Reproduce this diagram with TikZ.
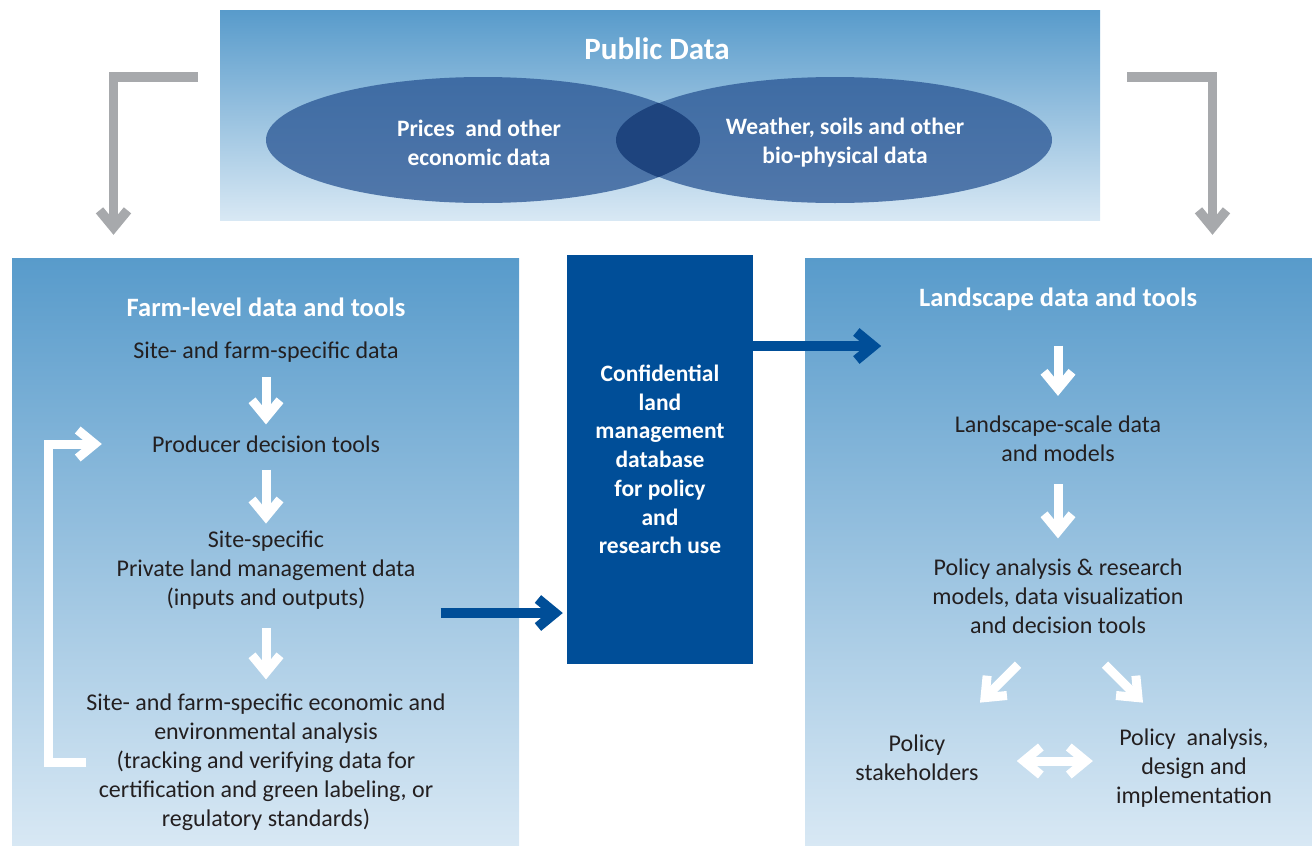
\documentclass[tikz,border=0pt]{standalone}
\usepackage{fontspec}
\setmainfont{Carlito}
\usetikzlibrary{arrows.meta,shapes.geometric}
\definecolor{boxtop}{RGB}{88,155,203}
\definecolor{boxbot}{RGB}{216,232,244}
\definecolor{ovalblue}{RGB}{42,86,148}
\definecolor{ovaldark}{RGB}{30,68,126}
\definecolor{navy}{RGB}{0,78,152}
\definecolor{arrowgray}{RGB}{167,169,172}
\definecolor{ink}{RGB}{35,31,32}
\begin{document}
\begin{tikzpicture}[x=1pt,y=-1pt,
    panel/.style={rectangle,top color=boxtop,bottom color=boxbot,inner sep=0pt},
    txt/.style={align=center,text=ink,inner sep=0pt,font=\fontsize{24}{29}\selectfont},
    head/.style={align=center,text=white,inner sep=0pt,font=\fontsize{26.5}{31}\selectfont\bfseries},
    oval/.style={ellipse,fill=ovalblue,fill opacity=0.76,minimum width=434pt,minimum height=126pt},
    ovaltxt/.style={align=center,text=white,inner sep=0pt,font=\fontsize{23.5}{29}\selectfont\bfseries},
    tip/.style={-{Straight Barb[length=17pt,width=28pt,sharp]}},
    warr/.style={draw=white,line width=9pt,tip},
    dwarr/.style={draw=white,line width=9pt,{Straight Barb[length=17pt,width=28pt,sharp]}-{Straight Barb[length=17pt,width=28pt,sharp]}},
    garr/.style={draw=arrowgray,line width=9.5pt,tip},
    barr/.style={draw=navy,line width=10pt,tip}]
  \useasboundingbox (0,0) rectangle (1312,846);

  % panels
  \node[panel,minimum width=880pt,minimum height=210pt] (pub) at (660,115) {};
  \node[panel,minimum width=507pt,minimum height=588pt] (farm) at (265.5,552) {};
  \node[panel,minimum width=507pt,minimum height=588pt] (land) at (1058.5,552) {};
  \node[head,fill=navy,minimum width=186pt,minimum height=409pt,font=\fontsize{23.5}{28.7}\selectfont\bfseries] (conf) at (660,459.5)
    {Confidential\\land\\management\\database\\for policy\\and\\research use};

  % public data
  \node[head,font=\fontsize{31}{36}\selectfont\bfseries] (pubt) at (657,49) {Public Data};
  \node[oval] (eco) at (483,140) {};
  \node[oval] (bio) at (835,140) {};
  \begin{scope}
    \clip (483,140) ellipse [x radius=217,y radius=63];
    \fill[ovaldark] (835,140) ellipse [x radius=219,y radius=63];
  \end{scope}
  \node[ovaltxt] (ecot) at (479,143) {Prices\ \ and other\\economic data};
  \node[ovaltxt] (biot) at (845,143) {Weather, soils and other\\bio-physical data};

  % farm level
  \node[head] (farmt) at (266,307) {Farm-level data and tools};
  \node[txt] (sfd) at (266,352) {Site- and farm-specific data};
  \node[txt] (pdt) at (266,444) {Producer decision tools};
  \node[txt] (priv) at (266,570) {Site-specific\\Private land management data\\(inputs and outputs)};
  \node[txt] (ana) at (266,762) {Site- and farm-specific economic and\\environmental analysis\\(tracking and verifying data for\\certification and green labeling, or\\regulatory standards)};

  % landscape
  \node[head] (landt) at (1058,299) {Landscape data and tools};
  \node[txt] (lsm) at (1058,439) {Landscape-scale data\\and models};
  \node[txt] (pol) at (1058,596) {Policy analysis \& research\\models, data visualization\\and decision tools};
  \node[txt] (stake) at (917,758) {Policy\\stakeholders};
  \node[txt] (impl) at (1194,768) {Policy\ \ analysis,\\design and\\implementation};

  % arrows
  \draw[garr] ([xshift=-22pt,yshift=38pt]pub.west) -| ([xshift=-152pt,yshift=23pt]farm.north);
  \draw[garr] ([xshift=27pt,yshift=38pt]pub.east) -| ([xshift=154pt,yshift=23pt]land.north);

  \draw[warr,shorten <=15pt,shorten >=11pt] (sfd) -- (pdt);
  \draw[warr,shorten <=17pt,shorten >=7pt] (pdt) -- (priv);
  \draw[warr,shorten <=19pt,shorten >=14pt] (priv) -- (ana);
  \draw[warr,shorten >=50pt] (ana.west) -- ++(-38,0) |- (pdt.west);

  \draw[warr,shorten <=35pt,shorten >=20pt] (landt) -- (lsm);
  \draw[warr,shorten <=22pt,shorten >=20pt] (lsm) -- (pol);
  \draw[warr] (pol.south) ++(-40,31) -- ++(-38,38);
  \draw[warr] (pol.south) ++(47,31) -- ++(38,38);
  \draw[dwarr,shorten <=38pt,shorten >=23pt] ([yshift=-3pt]stake.east) -- ([yshift=7pt]impl.west);

  \coordinate (out) at ([xshift=25pt,yshift=-43pt]priv.east);
  \draw[barr,shorten >=4pt] (out) -- (out -| conf.west);
  \coordinate (in) at ([yshift=113.5pt]conf.east);
  \draw[barr] (in) -- ++(128,0);

\end{tikzpicture}
\end{document}
